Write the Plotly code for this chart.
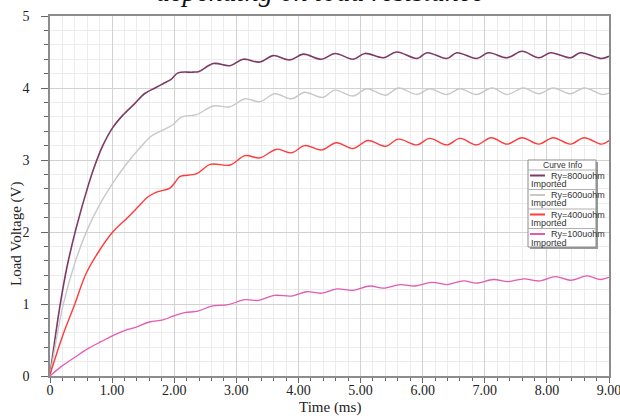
import plotly.graph_objects as go

# ---------------- data ----------------
t_800 = [0, 0.07, 0.15, 0.27, 0.42, 0.61, 0.72, 0.85, 1.01, 1.17, 1.36, 1.52, 1.69, 1.82, 1.95, 2.06,
         2.30, 2.40, 2.63, 2.90, 3.11, 3.38, 3.59, 3.86, 4.08, 4.37, 4.59, 4.88, 5.07, 5.37, 5.58,
         5.91, 6.07, 6.39, 6.55, 6.87, 7.06, 7.36, 7.60, 7.87, 8.06, 8.38, 8.54, 8.88, 9.00]
v_800 = [0.02, 0.45, 0.92, 1.50, 2.05, 2.63, 2.92, 3.20, 3.45, 3.62, 3.78, 3.92, 4.00, 4.06, 4.12, 4.21,
         4.22, 4.23, 4.34, 4.31, 4.40, 4.36, 4.45, 4.39, 4.47, 4.40, 4.48, 4.40, 4.48, 4.42, 4.50,
         4.41, 4.49, 4.41, 4.49, 4.41, 4.49, 4.42, 4.51, 4.42, 4.49, 4.42, 4.49, 4.41, 4.44]

t_600 = [0, 0.08, 0.21, 0.40, 0.61, 0.80, 0.99, 1.20, 1.47, 1.63, 1.85, 1.98, 2.12, 2.36, 2.63, 2.90,
         3.14, 3.38, 3.62, 3.89, 4.10, 4.39, 4.59, 4.88, 5.10, 5.40, 5.61, 5.91, 6.11, 6.39, 6.60,
         6.87, 7.12, 7.36, 7.62, 7.87, 8.10, 8.38, 8.60, 8.90, 9.00]
v_600 = [0.02, 0.40, 0.98, 1.57, 2.05, 2.38, 2.65, 2.91, 3.19, 3.33, 3.43, 3.49, 3.60, 3.63, 3.75, 3.74,
         3.85, 3.81, 3.92, 3.85, 3.94, 3.87, 3.97, 3.89, 3.99, 3.90, 4.00, 3.91, 3.99, 3.91, 3.99,
         3.91, 4.00, 3.91, 4.00, 3.92, 4.00, 3.92, 4.00, 3.91, 3.93]

t_400 = [0, 0.20, 0.40, 0.58, 0.80, 1.01, 1.26, 1.42, 1.58, 1.74, 1.93, 2.04, 2.09, 2.36, 2.58, 2.90,
         3.14, 3.38, 3.65, 3.89, 4.10, 4.37, 4.61, 4.88, 5.12, 5.40, 5.61, 5.91, 6.11, 6.39, 6.60,
         6.87, 7.10, 7.36, 7.60, 7.87, 8.10, 8.38, 8.60, 8.88, 9.00]
v_400 = [0.02, 0.55, 1.00, 1.42, 1.75, 2.00, 2.21, 2.35, 2.49, 2.56, 2.61, 2.72, 2.77, 2.81, 2.94, 2.93,
         3.06, 3.03, 3.15, 3.10, 3.20, 3.14, 3.24, 3.16, 3.27, 3.19, 3.29, 3.21, 3.30, 3.21, 3.30,
         3.21, 3.31, 3.22, 3.31, 3.22, 3.31, 3.22, 3.31, 3.22, 3.27]

t_100 = [0, 0.18, 0.40, 0.61, 0.83, 1.01, 1.20, 1.39, 1.60, 1.82, 1.98, 2.17, 2.38, 2.60, 2.87, 3.14,
         3.35, 3.62, 3.89, 4.13, 4.37, 4.62, 4.88, 5.15, 5.37, 5.64, 5.88, 6.15, 6.39, 6.66, 6.87,
         7.14, 7.38, 7.63, 7.87, 8.14, 8.38, 8.65, 8.86, 9.00]
v_100 = [0.00, 0.13, 0.26, 0.38, 0.48, 0.56, 0.63, 0.68, 0.75, 0.78, 0.83, 0.88, 0.90, 0.97, 0.99, 1.06,
         1.05, 1.12, 1.11, 1.17, 1.15, 1.21, 1.19, 1.25, 1.22, 1.27, 1.25, 1.30, 1.27, 1.32, 1.29,
         1.34, 1.31, 1.35, 1.32, 1.38, 1.33, 1.39, 1.34, 1.37]

series_names = ["Ry=800uohm", "Ry=600uohm", "Ry=400uohm", "Ry=100uohm"]
series_sub = "Imported"
series_colors = ["#7d3a64", "#c8c8c8", "#ff3a3a", "#e35bb5"]
series_widths = [1.6, 1.4, 1.4, 1.3]

x_tickvals = [0, 1, 2, 3, 4, 5, 6, 7, 8, 9]
x_ticktext = ["0", "1.00", "2.00", "3.00", "4.00", "5.00", "6.00", "7.00", "8.00", "9.00"]
y_tickvals = [0, 1, 2, 3, 4, 5]
y_ticktext = ["0", "1", "2", "3", "4", "5"]

title_text = "depending on load resistance"
x_title = "Time (ms)"
y_title = "Load Voltage (V)"
legend_title = "Curve Info"

# ---------------- figure ----------------
W, H = 620, 416
ML, MR, MT, MB = 50, 11, 16, 40
PW, PH = W - ML - MR, H - MT - MB


def px(xp):
    return (xp - ML) / PW


def py(yp):
    return (H - MB - yp) / PH


SERIF = "Liberation Serif, Times New Roman, serif"
SANS = "Liberation Sans, Arial, sans-serif"

fig = go.Figure()
data = [(t_800, v_800), (t_600, v_600), (t_400, v_400), (t_100, v_100)]
for (tt, vv), name, col, w in zip(data, series_names, series_colors, series_widths):
    fig.add_trace(go.Scatter(x=tt, y=vv, mode="lines", name=name,
                             line=dict(color=col, width=w, shape="spline", smoothing=1.0),
                             showlegend=False, hoverinfo="skip"))

axis_common = dict(
    automargin=False, ticklabeloverflow="allow",
    showline=True, linecolor="#8c8c8c", linewidth=1.5, mirror=True,
    showgrid=True, gridcolor="#d2d2d2", gridwidth=1,
    zeroline=False, ticks="outside", tickcolor="#666666", tickwidth=1,
    tickfont=dict(family=SERIF, size=14, color="#222222"),
)

fig.update_xaxes(range=[0, 9], tickvals=x_tickvals, ticktext=x_ticktext, ticklen=5,
                 ticklabelstandoff=-5,
                 minor=dict(dtick=0.2, showgrid=True, gridcolor="#ececec", ticks="outside",
                            ticklen=3, tickcolor="#666666"),
                 **axis_common)
fig.update_yaxes(range=[0, 5], tickvals=y_tickvals, ticktext=y_ticktext, ticklen=7,
                 ticklabelstandoff=9,
                 minor=dict(dtick=0.2, showgrid=True, gridcolor="#ececec", ticks="outside",
                            ticklen=4, tickcolor="#666666"),
                 **axis_common)

shapes = []
annotations = []

# title (partly cut off at the top)
annotations.append(dict(text="<i>" + title_text + "</i>", xref="paper", yref="paper",
                        x=px(320), y=py(-9),
                        xanchor="center", yanchor="middle", showarrow=False,
                        font=dict(family=SERIF, size=28, color="#111111")))

# axis titles
annotations.append(dict(text=x_title, xref="paper", yref="paper", x=px(330), y=py(408),
                        xanchor="center", yanchor="middle", showarrow=False,
                        font=dict(family=SERIF, size=15, color="#222222")))
annotations.append(dict(text=y_title, xref="paper", yref="paper", x=px(16), y=py(234),
                        xanchor="center", yanchor="middle", showarrow=False, textangle=-90,
                        font=dict(family=SERIF, size=15, color="#222222")))

# custom legend box
bx0, bx1, by0, by1 = 528, 596, 160, 247
shapes.append(dict(type="rect", xref="paper", yref="paper", x0=px(bx0 + 2), x1=px(bx1 + 2),
                   y0=py(by0 + 2), y1=py(by1 + 2), fillcolor="#9a9a9a", line=dict(width=0)))
shapes.append(dict(type="rect", xref="paper", yref="paper", x0=px(bx0), x1=px(bx1),
                   y0=py(by0), y1=py(by1), fillcolor="white", line=dict(color="#8a8a8a", width=1)))
annotations.append(dict(text=legend_title, xref="paper", yref="paper", x=px(562), y=py(165),
                        xanchor="center", yanchor="middle", showarrow=False,
                        font=dict(family=SANS, size=8.5, color="#333333")))
shapes.append(dict(type="line", xref="paper", yref="paper", x0=px(bx0), x1=px(bx1),
                   y0=py(170), y1=py(170), line=dict(color="#b0b0b0", width=1)))
for i, (name, col) in enumerate(zip(series_names, series_colors)):
    yl = 175.5 + 19.5 * i
    shapes.append(dict(type="line", xref="paper", yref="paper", x0=px(530), x1=px(545),
                       y0=py(yl), y1=py(yl), line=dict(color=col, width=2)))
    annotations.append(dict(text=name, xref="paper", yref="paper", x=px(549), y=py(yl),
                            xanchor="left", yanchor="middle", showarrow=False,
                            font=dict(family=SANS, size=9, color="#333333")))
    annotations.append(dict(text=series_sub, xref="paper", yref="paper", x=px(528.5), y=py(yl + 8.5),
                            xanchor="left", yanchor="middle", showarrow=False,
                            font=dict(family=SANS, size=9, color="#333333")))
    if i < 3:
        shapes.append(dict(type="line", xref="paper", yref="paper", x0=px(bx0), x1=px(bx1),
                           y0=py(yl + 14), y1=py(yl + 14), line=dict(color="#b0b0b0", width=1)))

fig.update_layout(
    width=W, height=H,
    margin=dict(l=ML, r=MR, t=MT, b=MB, pad=0, autoexpand=False),
    paper_bgcolor="white", plot_bgcolor="white",
    shapes=shapes, annotations=annotations,
    showlegend=False,
)

fig.write_html("out.html", config={"displayModeBar": False})
